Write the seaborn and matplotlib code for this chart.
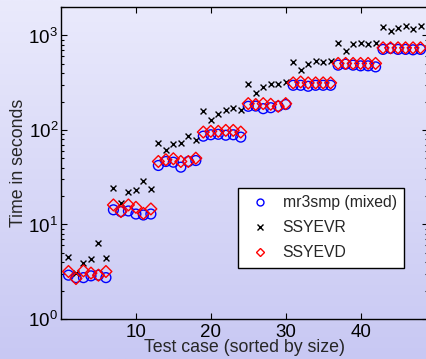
import numpy as np
import pandas as pd
import matplotlib
matplotlib.use("Agg")
import matplotlib.pyplot as plt
from matplotlib.lines import Line2D
import seaborn as sns

# ---- data ----
test_case = list(range(1, 49))
mr3smp = [2.91, 2.74, 2.74, 2.86, 2.91, 2.74,
          14.3, 13.7, 13.9, 12.9, 12.6, 12.9,
          42.1, 46.4, 45.6, 40.4, 46.4, 47.5,
          86, 89, 90, 88, 89, 84,
          178, 179, 168, 172, 178, 186,
          297, 297, 290, 297, 297, 297,
          485, 497, 485, 477, 477, 465,
          712, 729, 712, 712, 705, 712]
ssyevr = [4.55, 3.06, 3.87, 4.3, 6.3, 4.4,
          24.2, 16.9, 22.3, 23.2, 28.5, 23.8,
          73.3, 60.7, 71.6, 73.3, 85.5, 78.9,
          159, 126, 146, 161, 171, 161,
          310, 246, 285, 310, 310, 318,
          518, 429, 493, 535, 526, 535,
          824, 683, 805, 824, 805, 824,
          1237, 1122, 1208, 1259, 1161, 1259]
ssyevd = [3.18, 2.68, 3.23, 3.06, 2.91, 3.18,
          16.1, 13.7, 16.1, 15.2, 13.1, 14.6,
          46.4, 48.4, 49.6, 46.4, 46.4, 50.3,
          95, 96.7, 96.7, 99, 99, 95,
          190, 186, 190, 187, 178, 190,
          315, 322, 315, 315, 315, 315,
          506, 506, 506, 506, 506, 506,
          740, 740, 740, 740, 740, 740]
labels = ["mr3smp (mixed)", "SSYEVR", "SSYEVD"]

df = pd.DataFrame({"case": test_case, "mr3smp": mr3smp,
                   "ssyevr": ssyevr, "ssyevd": ssyevd})

sns.set_style("ticks")
plt.rcParams["font.family"] = ["Liberation Sans", "DejaVu Sans"]
plt.rcParams["mathtext.default"] = "regular"

fig = plt.figure(figsize=(4.27, 3.59), dpi=100)

# gradient background
bg = fig.add_axes([0, 0, 1, 1], zorder=-10)
top = np.array([234, 234, 252]) / 255
bot = np.array([200, 200, 243]) / 255
t = np.linspace(0, 1, 256)[:, None]
grad = (top[None, :] * (1 - t) + bot[None, :] * t)[:, None, :]
bg.imshow(grad, aspect="auto", extent=[0, 1, 0, 1])
bg.axis("off")

ax = fig.add_axes([61 / 427, 1 - 319 / 359, 367 / 427, 312 / 359])
ax.set_facecolor("none")

sns.scatterplot(data=df, x="case", y="mr3smp", marker="o", s=50,
                facecolors="none", edgecolor="#0000ff", linewidth=1.0,
                ax=ax, zorder=3)
sns.scatterplot(data=df, x="case", y="ssyevr", marker="x", s=18,
                color="black", linewidth=1.0, ax=ax, zorder=3)
sns.scatterplot(data=df, x="case", y="ssyevd", marker="D", s=36,
                facecolors="none", edgecolor="#ff0000", linewidth=1.0,
                ax=ax, zorder=4)

ax.set_yscale("log")
ax.set_xlim(0, 49)
ax.set_ylim(1, 2000)
ax.set_xticks([10, 20, 30, 40])
ax.tick_params(which="both", direction="in", top=True, right=True,
               labelsize=13.5, colors="black", width=0.8)
ax.tick_params(axis="y", pad=2)
ax.tick_params(axis="x", pad=3.5)
ax.tick_params(which="major", length=4)
ax.tick_params(which="minor", length=2)
ax.xaxis.set_minor_locator(matplotlib.ticker.NullLocator())
for s in ax.spines.values():
    s.set_visible(True)
    s.set_linewidth(1.0)
    s.set_color("black")

ax.set_xlabel("Test case (sorted by size)", fontsize=12.8, labelpad=-1)
ax.set_ylabel("Time in seconds", fontsize=12.8, labelpad=1)

handles = [
    Line2D([], [], linestyle="none", marker="o", markersize=5,
           markerfacecolor="none", markeredgecolor="#0000ff", markeredgewidth=1),
    Line2D([], [], linestyle="none", marker="x", markersize=4,
           color="black", markeredgewidth=1),
    Line2D([], [], linestyle="none", marker="D", markersize=4.5,
           markerfacecolor="none", markeredgecolor="#ff0000", markeredgewidth=1),
]
leg = ax.legend(handles, labels, loc="upper left",
                bbox_to_anchor=(238 / 427, 1 - 188 / 359),
                bbox_transform=fig.transFigure, fontsize=11.3,
                frameon=True, fancybox=False, framealpha=1,
                edgecolor="black", labelspacing=0.65, borderpad=0.45,
                borderaxespad=0, handletextpad=0.5, handlelength=1.9)
leg.get_frame().set_linewidth(1.0)

fig.savefig("out.png", dpi=100)
